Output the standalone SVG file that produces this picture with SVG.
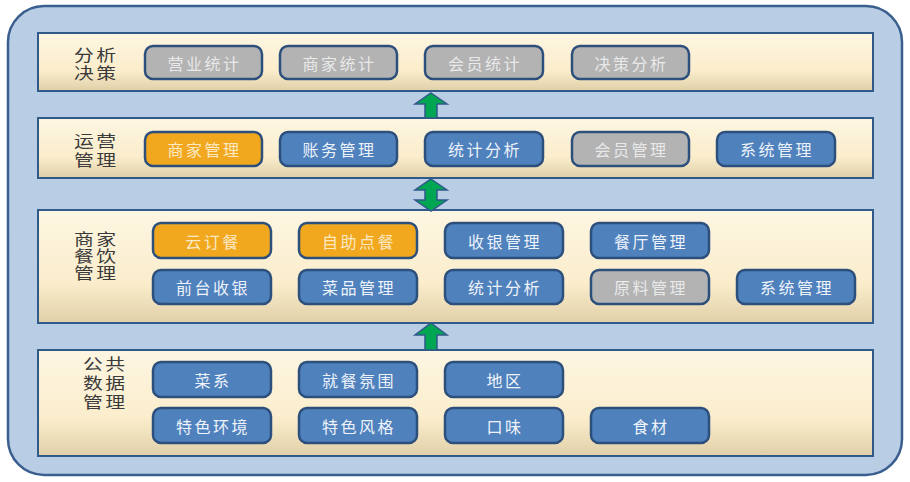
<svg xmlns="http://www.w3.org/2000/svg" width="910" height="482" viewBox="0 0 910 482">
<defs>
<linearGradient id="layerGrad" x1="0" y1="0" x2="0" y2="1">
<stop offset="0" stop-color="#fdf6e2"/>
<stop offset="0.65" stop-color="#fbedcc"/>
<stop offset="1" stop-color="#e0d0a8"/>
</linearGradient>
<style>
.outer{fill:#b9cde5;stroke:#3a5f8e;stroke-width:2.5}
.layer{fill:url(#layerGrad);stroke:#2f5a8a;stroke-width:2}
.btn{stroke:#2c4f7c;stroke-width:2.5}
.blue{fill:#4f81bd}
.orange{fill:#f1a81f}
.gray{fill:#b3b3b3}
.bt{font-family:"Noto Sans CJK SC","Noto Sans CJK JP",sans-serif;font-size:16px;letter-spacing:2.5px;text-anchor:middle;dominant-baseline:central}
.tw{fill:#eef3fa}
.to{fill:#fbe9c4}
.tg{fill:#e9e9e9}
.lbl{font-family:"Liberation Serif","Noto Sans CJK SC","Noto Sans CJK JP",serif;font-size:15.5px;letter-spacing:2px;text-anchor:middle;fill:#3a3a3a}
.arrow{fill:#00a651;stroke:#2f5a8a;stroke-width:1.5;stroke-linejoin:miter}
</style>
</defs>
<rect class="outer" x="8" y="6" width="894" height="469" rx="36" ry="36"/>

<g id="layer-decision">
<rect class="layer" x="38" y="33" width="835" height="58"/>
<g transform="translate(95,0) scale(1.28,1)">
<text class="lbl" x="1" y="61">分析</text>
<text class="lbl" x="1" y="79">决策</text>
</g>
</g>
<g id="layer-operation">
<rect class="layer" x="38" y="118" width="835" height="60"/>
<g transform="translate(95,0) scale(1.28,1)">
<text class="lbl" x="1" y="147">运营</text>
<text class="lbl" x="1" y="166">管理</text>
</g>
</g>
<g id="layer-merchant">
<rect class="layer" x="38" y="210" width="835" height="113"/>
<g transform="translate(95,0) scale(1.28,1)">
<text class="lbl" x="1" y="245">商家</text>
<text class="lbl" x="1" y="262">餐饮</text>
<text class="lbl" x="1" y="279">管理</text>
</g>
</g>
<g id="layer-public">
<rect class="layer" x="38" y="350" width="835" height="106"/>
<g transform="translate(104,0) scale(1.28,1)">
<text class="lbl" x="1" y="370">公共</text>
<text class="lbl" x="1" y="389">数据</text>
<text class="lbl" x="1" y="408">管理</text>
</g>
</g>

<!-- Layer 1 nodes -->
<g id="n-yingye"><rect class="btn gray" x="145" y="46" width="117" height="33" rx="8"/><text class="bt tg" x="204.5" y="62.5">营业统计</text></g>
<g id="n-shangjiatongji"><rect class="btn gray" x="280" y="46" width="117" height="33" rx="8"/><text class="bt tg" x="339.5" y="62.5">商家统计</text></g>
<g id="n-huiyuantongji"><rect class="btn gray" x="425" y="46" width="118" height="33" rx="8"/><text class="bt tg" x="485" y="62.5">会员统计</text></g>
<g id="n-juece"><rect class="btn gray" x="572" y="46" width="117" height="33" rx="8"/><text class="bt tg" x="631.5" y="62.5">决策分析</text></g>

<!-- Layer 2 nodes -->
<g id="n-shangjiaguanli"><rect class="btn orange" x="145" y="132" width="117" height="34" rx="8"/><text class="bt to" x="204.5" y="149">商家管理</text></g>
<g id="n-zhangwu"><rect class="btn blue" x="280" y="132" width="117" height="34" rx="8"/><text class="bt tw" x="339.5" y="149">账务管理</text></g>
<g id="n-tongji1"><rect class="btn blue" x="425" y="132" width="118" height="34" rx="8"/><text class="bt tw" x="485" y="149">统计分析</text></g>
<g id="n-huiyuanguanli"><rect class="btn gray" x="572" y="132" width="117" height="34" rx="8"/><text class="bt tg" x="631.5" y="149">会员管理</text></g>
<g id="n-xitong1"><rect class="btn blue" x="717" y="132" width="118" height="34" rx="8"/><text class="bt tw" x="777" y="149">系统管理</text></g>

<!-- Layer 3 nodes -->
<g id="n-yundingcan"><rect class="btn orange" x="153" y="223" width="118" height="35" rx="8"/><text class="bt to" x="213" y="240.5">云订餐</text></g>
<g id="n-zizhu"><rect class="btn orange" x="299" y="223" width="118" height="35" rx="8"/><text class="bt to" x="359" y="240.5">自助点餐</text></g>
<g id="n-shouyin"><rect class="btn blue" x="445" y="223" width="118" height="35" rx="8"/><text class="bt tw" x="505" y="240.5">收银管理</text></g>
<g id="n-canting"><rect class="btn blue" x="591" y="223" width="118" height="35" rx="8"/><text class="bt tw" x="651" y="240.5">餐厅管理</text></g>
<g id="n-qiantai"><rect class="btn blue" x="153" y="270" width="118" height="34" rx="8"/><text class="bt tw" x="213" y="287">前台收银</text></g>
<g id="n-caipin"><rect class="btn blue" x="299" y="270" width="118" height="34" rx="8"/><text class="bt tw" x="359" y="287">菜品管理</text></g>
<g id="n-tongji2"><rect class="btn blue" x="445" y="270" width="118" height="34" rx="8"/><text class="bt tw" x="505" y="287">统计分析</text></g>
<g id="n-yuanliao"><rect class="btn gray" x="591" y="270" width="118" height="34" rx="8"/><text class="bt tg" x="651" y="287">原料管理</text></g>
<g id="n-xitong2"><rect class="btn blue" x="737" y="270" width="118" height="34" rx="8"/><text class="bt tw" x="797" y="287">系统管理</text></g>

<!-- Layer 4 nodes -->
<g id="n-caixi"><rect class="btn blue" x="153" y="362" width="118" height="35" rx="8"/><text class="bt tw" x="213" y="379.5">菜系</text></g>
<g id="n-fenwei"><rect class="btn blue" x="299" y="362" width="118" height="35" rx="8"/><text class="bt tw" x="359" y="379.5">就餐氛围</text></g>
<g id="n-diqu"><rect class="btn blue" x="445" y="362" width="118" height="35" rx="8"/><text class="bt tw" x="505" y="379.5">地区</text></g>
<g id="n-huanjing"><rect class="btn blue" x="153" y="408" width="118" height="35" rx="8"/><text class="bt tw" x="213" y="425.5">特色环境</text></g>
<g id="n-fengge"><rect class="btn blue" x="299" y="408" width="118" height="35" rx="8"/><text class="bt tw" x="359" y="425.5">特色风格</text></g>
<g id="n-kouwei"><rect class="btn blue" x="445" y="408" width="118" height="35" rx="8"/><text class="bt tw" x="505" y="425.5">口味</text></g>
<g id="n-shicai"><rect class="btn blue" x="591" y="408" width="118" height="35" rx="8"/><text class="bt tw" x="651" y="425.5">食材</text></g>

<g id="connectors">
<polygon class="arrow" points="431,93 447,104 437,104 437,118 425,118 425,104 415,104"/>
<polygon class="arrow" points="431,179 447,190 437,190 437,200 447,200 431,211 415,200 425,200 425,190 415,190"/>
<polygon class="arrow" points="431,323 447,335 437,335 437,350 425,350 425,335 415,335"/>
</g>
</svg>
